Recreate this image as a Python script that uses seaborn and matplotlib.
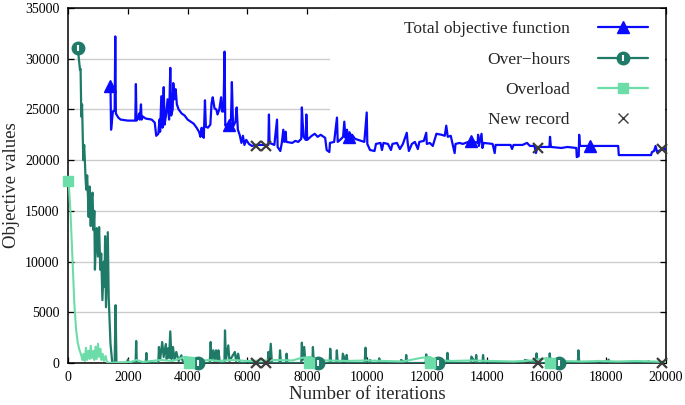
import numpy as np
import pandas as pd
import matplotlib
matplotlib.use("Agg")
import matplotlib.pyplot as plt
from matplotlib.lines import Line2D
from matplotlib.patches import Rectangle
import seaborn as sns

# Total objective function (iteration, value)
total_x = [1390, 1420, 1440, 1500, 1560, 1580, 1600, 1680, 1760, 2000, 2250, 2270, 2290, 2350, 2380, 2400,
           2440, 2460, 2500, 2600, 2800, 2900, 2950, 3020, 3060, 3080, 3120, 3160, 3200, 3230, 3280, 3330,
           3380, 3420, 3450, 3500, 3520, 3560, 3600, 3640, 3700, 3800, 3900, 4000, 4100, 4200, 4300, 4380,
           4430, 4470, 4500, 4540, 4580, 4610, 4680, 4760, 4800, 4840, 4900, 4960, 5000, 5060, 5120, 5150,
           5200, 5235, 5260, 5300, 5400, 5450, 5480, 5520, 5600, 5640, 5680, 5740, 5800, 5850, 5900, 5960,
           6050, 6150, 6275, 6500, 6700, 6720, 6740, 6900, 6990, 7010, 7100, 7150, 7200, 7230, 7280, 7300,
           7500, 7600, 7700, 7800, 7820, 7850, 7880, 7950, 7970, 8000, 8150, 8250, 8350, 8450, 8600, 8650,
           8740, 8760, 8900, 8995, 9020, 9100, 9200, 9240, 9280, 9330, 9360, 9400, 9500, 9600, 9700, 9800,
           9910, 9990, 10010, 10100, 10250, 10300, 10450, 10500, 10550, 10700, 10800, 10850, 11000, 11100,
           11200, 11330, 11360, 11400, 11500, 11600, 11700, 11750, 11900, 11980, 12000, 12100, 12200, 12320,
           12500, 12600, 12650, 12700, 12800, 12930, 12960, 13100, 13200, 13490, 13700, 13715, 13740, 13830,
           13860, 13900, 14200, 14270, 14300, 14800, 14850, 14900, 15200, 15350, 15450, 15600, 15650, 15700,
           16100, 16120, 16150, 16500, 16700, 17000, 17015, 17080, 17095, 17120, 17500, 18400, 18420, 19500,
           19530, 19600, 19650, 19700, 19870, 20000]
total_y = [27300, 27300, 23000, 24800, 24900, 32200, 24600, 24200, 24000, 23900, 23900, 27500, 23900, 24200, 24600, 24000,
           25500, 24000, 24300, 24100, 24000, 23700, 22400, 22600, 24000, 22800, 26300, 23200, 27200, 23500, 24500, 26000,
           24000, 29100, 24400, 25000, 27600, 26000, 27000, 25500, 25000, 24600, 24400, 24000, 23800, 23600, 23200, 22800,
           22300, 23200, 22400, 22200, 25900, 23300, 23200, 23500, 25600, 26200, 25100, 25000, 24500, 25000, 26200, 24800,
           24800, 30700, 23400, 23500, 23500, 24000, 27700, 23300, 23800, 25200, 23000, 22500, 21700, 22400, 21500, 22000,
           21600, 21400, 21500, 21500, 21500, 24500, 21700, 21500, 24000, 21300, 20900, 21700, 23000, 21800, 22800, 21800,
           21700, 21900, 21800, 22100, 25200, 23600, 22300, 22000, 24500, 22000, 22400, 22600, 22300, 22500, 22200, 21000,
           20800, 21700, 21800, 24200, 21800, 22000, 22300, 23800, 22200, 23000, 22400, 22200, 22500, 22100, 22000, 21900,
           21800, 24700, 21600, 21000, 20900, 21600, 21700, 21000, 21700, 21600, 21000, 21600, 21700, 21100,
           21600, 22700, 21700, 20900, 21600, 21800, 21100, 21800, 21900, 22700, 21600, 21700, 21400, 22600,
           22500, 22400, 23400, 22300, 22400, 20700, 21600, 21700, 21600, 21900, 21700, 22500, 21400, 22600,
           21200, 21700, 21600, 20700, 21500, 21500, 21100, 21500, 21500, 21700, 21400, 21400, 20700, 21300,
           21300, 22300, 21300, 21200, 21300, 21200, 20300, 20400, 22500, 21400, 21400, 21400, 20500, 20500,
           20800, 20900, 21400, 20800, 21100, 21100]

# Over-hours
hours_x = [325, 400, 420, 445, 470, 510, 540, 560, 585, 610, 640, 650, 670, 690, 720, 740, 760, 790, 820, 850,
           880, 900, 930, 960, 1000, 1040, 1080, 1110, 1150, 1200, 1220, 1240, 1270, 1300, 1330, 1360, 1420, 1480,
           1560, 1590, 1620, 1980, 2000, 2020, 2260, 2280, 2300, 2600, 2620, 2640, 3020, 3040, 3080, 3150, 3200,
           3270, 3300, 3340, 3380, 3420, 3460, 3510, 3560, 3620, 3700, 3790, 3850, 4740, 4770, 4800, 4860, 4900,
           4950, 5000, 5030, 5080, 5230, 5250, 5280, 5360, 5400, 5580, 5620, 5690, 5740, 6680, 6700, 6740, 6780,
           6820, 7070, 7090, 7120, 7290, 7310, 7340, 7800, 7820, 7850, 7900, 7940, 8170, 8190, 8220, 8750, 8770,
           8800, 8970, 8990, 9020, 9170, 9190, 9300, 9320, 9350, 9920, 9950, 9980, 10080, 10100, 10120, 10390,
           10410, 10430, 11120, 11140, 11290, 11310, 11340, 11960, 11980, 12000, 12670, 12690, 12720, 13470,
           13490, 13630, 13650, 13680, 13860, 13880, 13910, 15260, 15280, 15650, 15670, 15700, 16090, 16110,
           16140, 17050, 17070, 17100, 17670, 17690, 18060, 18080, 18100, 19390, 19410, 19430, 20000]
hours_y = [31100, 28900, 29000, 24300, 25500, 20000, 21500, 20200, 18300, 17100, 18500, 17800, 16000, 14400, 17400, 15000, 13500, 16200, 16800, 13100,
           15000, 9200, 12000, 13300, 10500, 13400, 9200, 10800, 6200, 10000, 7500, 12500, 5500, 9000, 12900, 6500, 1900, 0,
           0, 5700, 0, 0, 330, 0, 0, 2170, 0, 0, 990, 0, 0, 1580, 300, 2070, 600,
           1870, 400, 1440, 500, 3120, 400, 1580, 300, 1090, 200, 760, 0, 0, 2070, 300, 1250, 200,
           1250, 200, 1250, 0, 0, 3220, 300, 1740, 200, 1090, 200, 920, 0, 0, 1090, 200, 1900,
           0, 0, 1250, 0, 0, 920, 0, 0, 2000, 300, 1580, 0, 0, 1580, 0, 0, 1410,
           0, 0, 1250, 0, 0, 920, 0, 800, 0, 0, 1510, 0, 0, 300, 0, 0,
           460, 0, 0, 300, 0, 790, 0, 0, 850, 0, 0, 1000, 0, 0,
           630, 0, 790, 0, 0, 790, 0, 0, 300, 0, 950, 0, 0, 950,
           0, 0, 1250, 0, 0, 200, 0, 330, 0, 0, 200, 0, 0]

# Overload
load_x = [0, 30, 80, 155, 210, 270, 325, 380, 440, 480, 520, 560, 600, 630, 680, 720, 760, 800, 850, 880,
          920, 960, 1000, 1040, 1080, 1120, 1160, 1200, 1260, 1300, 1400, 1600, 2100, 2300, 2500, 2800, 3100,
          3500, 3700, 3900, 4200, 4400, 4700, 5000, 5500, 6000, 6500, 7000, 7500, 7800, 8100, 8300, 8700,
          9300, 10000, 10600, 11200, 11800, 12100, 12300, 12800, 13500, 14200, 14900, 15500, 15900, 16200,
          16500, 17200, 17800, 18400, 19000, 19600, 20000]
load_y = [17900, 17400, 15000, 9900, 5900, 3300, 2000, 1300, 800, 300, 900, 200, 1500, 300, 1200, 400, 1700, 500, 1200, 300,
          1600, 400, 1900, 600, 1400, 300, 900, 200, 700, 100, 0, 50, 100, 300, 100, 200, 300,
          200, 400, 600, 500, 200, 300, 200, 300, 200, 250, 300, 250, 500, 600, 300, 250,
          200, 250, 200, 150, 500, 600, 300, 200, 250, 200, 150, 250, 450, 400,
          200, 150, 200, 150, 200, 150, 100]

# markers and new records
tri_x = [1390, 5370, 9400, 13490, 17460]
tri_y = [27300, 23500, 22300, 21900, 21400]
circ_x = [325, 4345, 8365, 12385, 16405]
circ_y = [31100, 0, 0, 0, 0]
sq_x = [0, 4030, 8060, 12090, 16120]
sq_y = [17900, 0, 0, 0, 0]
rec_x = [6275, 6610, 15730, 19880]
rec_total = [21400, 21400, 21200, 21100]
rec_zero = [0, 0, 0, 0]

labels = ["Total objective function", "Over\u2212hours", "Overload", "New record"]

c_total = "#0a0aff"
c_hours = "#1f7a68"
c_load = "#6cdca8"
c_rec = "#3c3c3c"

sns.set_style("ticks")
plt.rcParams["font.family"] = ["Liberation Serif", "DejaVu Serif"]

fig = plt.figure(figsize=(6.85, 4.05), dpi=100)
ax = fig.add_axes([0.0993, 0.1037, 0.873, 0.8765])

df_total = pd.DataFrame({"it": total_x, "val": total_y})
df_hours = pd.DataFrame({"it": hours_x, "val": hours_y})
df_load = pd.DataFrame({"it": load_x, "val": load_y})

sns.lineplot(data=df_total, x="it", y="val", ax=ax, color=c_total, lw=1.6, sort=False, estimator=None, zorder=3)
sns.lineplot(data=df_hours, x="it", y="val", ax=ax, color=c_hours, lw=1.6, sort=False, estimator=None, zorder=3)
sns.lineplot(data=df_load, x="it", y="val", ax=ax, color=c_load, lw=1.5, sort=False, estimator=None, zorder=3)

ax.plot(tri_x, tri_y, ls="none", marker="^", ms=8, color=c_total, clip_on=False, zorder=4)
ax.plot(circ_x, circ_y, ls="none", marker="o", ms=9, color=c_hours, clip_on=False, zorder=4)
ax.plot(circ_x, circ_y, ls="none", marker="|", ms=4, mew=1.5, color="white", clip_on=False, zorder=4)
ax.plot(sq_x, sq_y, ls="none", marker="s", ms=7, color=c_load, clip_on=False, zorder=4)
ax.plot(rec_x, rec_total, ls="none", marker="x", ms=7.5, mew=1.6, color=c_rec, clip_on=False, zorder=5)
ax.plot(rec_x, rec_zero, ls="none", marker="x", ms=7.5, mew=1.6, color=c_rec, clip_on=False, zorder=5)

ax.set_xlim(0, 20000)
ax.set_ylim(0, 35000)
ax.set_xticks(np.arange(0, 20001, 2000))
ax.set_yticks(np.arange(0, 35001, 5000))
ax.set_axisbelow(True)
ax.yaxis.grid(True, color="#cccccc", lw=1.0)
ax.xaxis.grid(False)
ax.tick_params(direction="in", length=4.5, width=0.9, top=True, right=True, labelsize=10, pad=6, colors="black")
ax.tick_params(axis="x", pad=6)
for s in ax.spines.values():
    s.set_linewidth(1.1)
    s.set_color("black")

ax.set_xlabel("Number of iterations", fontsize=13.5, labelpad=1)
ax.set_ylabel("Objective values", fontsize=13.5, labelpad=4)

# key area hides the grid
ax.add_patch(Rectangle((0.438, 0.645), 0.56, 0.353, transform=ax.transAxes, facecolor="white",
                       edgecolor="none", zorder=1))

h_total = Line2D([], [], color=c_total, lw=1.6, marker="^", ms=8)
h_hours = (Line2D([], [], color=c_hours, lw=1.6, marker="o", ms=9),
           Line2D([], [], ls="none", marker="|", ms=4, mew=1.5, color="white"))
h_load = Line2D([], [], color=c_load, lw=1.6, marker="s", ms=7)
h_rec = Line2D([], [], ls="none", marker="x", ms=7.5, mew=1.0, color=c_rec)
leg = ax.legend([h_total, h_hours, h_load, h_rec], labels, loc="upper right", bbox_to_anchor=(0.970, 0.963),
                markerfirst=False, frameon=False, fontsize=12.5, handlelength=2.9, handletextpad=1.6,
                labelspacing=0.82, borderpad=0, borderaxespad=0)
leg.set_zorder(6)

fig.savefig("out.png", dpi=100)
